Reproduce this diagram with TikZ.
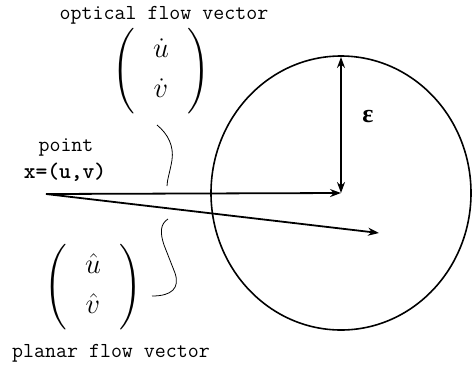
\documentclass[tikz,border=0pt]{standalone}
\usepackage{amsmath}
\usepackage{fontspec}
\usetikzlibrary{positioning,arrows.meta}
\newfontfamily\epsfont{Liberation Serif}
\tikzset{
  lbl/.style={font=\ttfamily\fontsize{21.4}{23}\selectfont, inner sep=0pt},
  blbl/.style={font=\ttfamily\bfseries\fontsize{22.5}{24}\selectfont, inner sep=0pt},
  vec/.style={font=\Huge, scale=1.15, inner sep=0pt},
  rim/.style={draw=black, line width=1.6pt},
  flow/.style={draw=black, line width=1.8pt, -{Stealth[length=11pt,width=8pt]}},
  radius/.style={draw=black, line width=1.8pt, {Stealth[length=11pt,width=8pt]}-{Stealth[length=11pt,width=8pt]}},
  squig/.style={draw=black, line width=0.8pt}
}

\begin{document}
\begin{tikzpicture}[x=1bp, y=-1bp]
  \useasboundingbox (0,0) rectangle (472,365);

  % Points
  \coordinate (pt) at (46,194);
  \coordinate (ctr) at (341,193);
  \coordinate (top) at (341,57);
  \coordinate (tip) at (379,233);

  % Circle of radius epsilon
  \draw[rim] (ctr) ellipse [x radius=130, y radius=137];

  % Labels
  \node[lbl] (ofv) at (164,15) {optical flow vector};
  \node[vec] (dotv) at (161,71)
    {$\left(\;\,\begin{array}{c}\dot u\\[5pt] \dot v\end{array}\;\,\right)$};
  \node[lbl] (pnt) at (66,147) {point};
  \node[blbl] (xpt) at (65,172) {x=(u,v)};
  \node[vec] (hatv) at (93,287)
    {$\left(\;\,\begin{array}{c}\hat u\\[5pt] \hat v\end{array}\;\,\right)$};
  \node[lbl] (pfv) at (111,353) {planar flow vector};
  \node[font=\epsfont\bfseries\fontsize{26}{28}\selectfont, inner sep=0pt]
    (eps) at (368,117) {ε};

  % Vectors
  \draw[flow] (pt) -- (ctr);
  \draw[flow] (pt) -- (tip);
  \draw[radius] (top) -- (ctr);

  % Braces
  \draw[squig] (157,125) .. controls (168,134) and (174,146) .. (172,160)
    .. controls (170,172) and (167,180) .. (167,186);
  \draw[squig] (168,219) .. controls (160,224) and (160,233) .. (164,245)
    -- (175,273) .. controls (180,288) and (172,296) .. (152,296);
\end{tikzpicture}
\end{document}
